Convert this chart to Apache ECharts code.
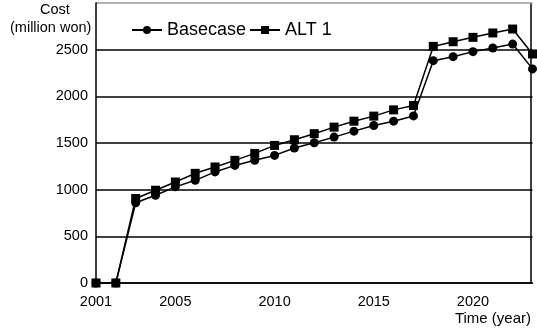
<!DOCTYPE html>
<html>
<head>
<meta charset="utf-8">
<script src="https://cdn.jsdelivr.net/npm/echarts@6/dist/echarts.min.js"></script>
<style>
  html, body { margin: 0; padding: 0; background: #fff; }
  #chart { width: 537px; height: 330px; }
</style>
</head>
<body>
<div id="chart"></div>
<script>
const myChart = echarts.init(document.getElementById('chart'));

let years = ['2001', '2002', '2003', '2004', '2005', '2006', '2007', '2008',
  '2009', '2010', '2011', '2012', '2013', '2014', '2015', '2016',
  '2017', '2018', '2019', '2020', '2021', '2022', '2023'];
let shownYears = ['2001', '2005', '2010', '2015', '2020'];

let basecase = [0, 0, 860, 940, 1030, 1100, 1190, 1260, 1315, 1367, 1446, 1503,
  1563, 1627, 1688, 1734, 1790, 2382, 2425, 2479, 2518, 2560, 2294];
let alt1 = [0, 0, 905, 994, 1082, 1175, 1243, 1314, 1389, 1474, 1535, 1600,
  1670, 1734, 1788, 1855, 1902, 2535, 2585, 2632, 2679, 2721, 2454];

const font = "'Liberation Sans', Arial, sans-serif";

let options = {
  animation: false,
  textStyle: { fontFamily: font, color: '#000' },
  grid: {
    left: 96,
    right: 4.5,
    top: 3,
    bottom: 47,
    show: false
  },
  legend: {
    left: 126,
    top: 16,
    itemWidth: 30,
    itemHeight: 10,
    itemGap: 3,
    textStyle: { fontSize: 18, color: '#000', fontFamily: font },
    data: ['Basecase', 'ALT 1']
  },
  xAxis: {
    type: 'category',
    data: years,
    boundaryGap: false,
    axisLine: { lineStyle: { color: '#000', width: 1.5 } },
    axisTick: { show: false },
    axisLabel: {
      color: '#000',
      fontSize: 14.5,
      margin: 11,
      interval: function (index, value) {
        return shownYears.indexOf(value) >= 0;
      }
    },
    splitLine: { show: false }
  },
  yAxis: {
    type: 'value',
    min: 0,
    max: 3000,
    interval: 500,
    axisLine: { show: true, lineStyle: { color: '#000', width: 1.5 } },
    axisTick: { show: false },
    axisLabel: {
      color: '#000',
      fontSize: 14.5,
      margin: 8,
      formatter: function (v) { return v === 3000 ? '' : v; }
    },
    splitLine: {
      lineStyle: {
        color: ['#000', '#000', '#000', '#000', '#000', '#000', '#999'],
        width: 1.5
      }
    }
  },
  graphic: [
    {
      type: 'text', left: 40, top: 2,
      style: { text: 'Cost', font: '14.5px ' + font, fill: '#000' }
    },
    {
      type: 'text', left: 10, top: 20,
      style: { text: '(million won)', font: '14.5px ' + font, fill: '#000' }
    },
    {
      type: 'text', right: 6, top: 311,
      style: { text: 'Time (year)', font: '15px ' + font, fill: '#000' }
    },
    {
      type: 'line',
      shape: { x1: 531, y1: 3, x2: 531, y2: 283 },
      style: { stroke: '#000', lineWidth: 1.5 }
    }
  ],
  series: [
    {
      name: 'Basecase',
      type: 'line',
      data: basecase,
      symbol: 'circle',
      symbolSize: 9,
      itemStyle: { color: '#000' },
      lineStyle: { color: '#000', width: 1.5 }
    },
    {
      name: 'ALT 1',
      type: 'line',
      data: alt1,
      symbol: 'rect',
      symbolSize: 9,
      itemStyle: { color: '#000' },
      lineStyle: { color: '#000', width: 1.5 }
    }
  ]
};

myChart.setOption(options);
</script>
</body>
</html>
